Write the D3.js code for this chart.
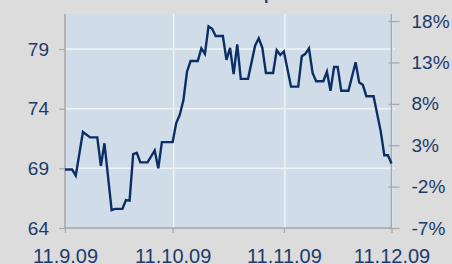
<!DOCTYPE html>
<html>
<head>
<meta charset="utf-8">
<script src="https://cdn.jsdelivr.net/npm/d3@7"></script>
<style>
  html, body { margin: 0; padding: 0; background: #dcdcdc; }
  svg { display: block; }
  text { font-family: "Liberation Sans", Arial, sans-serif; }
</style>
</head>
<body>
<svg id="chart" width="452" height="264"></svg>
<script>
// ---- data ----
const dates = [
  "2009-09-11","2009-09-13","2009-09-14","2009-09-16","2009-09-18","2009-09-20","2009-09-21","2009-09-22",
  "2009-09-24","2009-09-25","2009-09-27","2009-09-28","2009-09-29","2009-09-30","2009-10-01","2009-10-02",
  "2009-10-04","2009-10-06","2009-10-07","2009-10-08","2009-10-11","2009-10-12","2009-10-13","2009-10-14",
  "2009-10-15","2009-10-16","2009-10-18","2009-10-19","2009-10-20","2009-10-21","2009-10-22","2009-10-23",
  "2009-10-25","2009-10-26","2009-10-27","2009-10-28","2009-10-29","2009-10-30","2009-11-01","2009-11-02",
  "2009-11-03","2009-11-04","2009-11-05","2009-11-06","2009-11-08","2009-11-09","2009-11-10","2009-11-11",
  "2009-11-13","2009-11-15","2009-11-16","2009-11-17","2009-11-18","2009-11-19","2009-11-20","2009-11-22",
  "2009-11-23","2009-11-24","2009-11-25","2009-11-26","2009-11-27","2009-11-29","2009-12-01","2009-12-02",
  "2009-12-03","2009-12-04","2009-12-06","2009-12-08","2009-12-09","2009-12-10","2009-12-11"
];
const prices = [
  68.9, 68.9, 68.4, 72.05, 71.6, 71.6, 69.2, 71.1,
  65.5, 65.6, 65.6, 66.35, 66.3, 70.2, 70.3, 69.5,
  69.5, 70.5, 69.0, 71.2, 71.2, 72.8, 73.5, 74.7,
  77.1, 78.0, 78.0, 79.06, 78.6, 80.9, 80.7, 80.1,
  80.1, 78.1, 79.1, 76.9, 79.4, 76.5, 76.5, 77.9,
  79.3, 79.9, 79.1, 77.0, 77.0, 78.9, 78.5, 78.8,
  75.85, 75.85, 78.4, 78.6, 79.06, 77.0, 76.3, 76.3,
  77.1, 75.5, 77.5, 77.5, 75.5, 75.5, 77.9, 76.2,
  76.0, 75.05, 75.05, 72.1, 70.1, 70.1, 69.4
];
const xTickDates = ["2009-09-11","2009-10-11","2009-11-11","2009-12-11"];
const leftTicks = [64, 69, 74, 79];
const rightTicks = [-7, -2, 3, 8, 13, 18];
const titleText = "Share price";

// ---- layout ----
const parse = d3.timeParse("%Y-%m-%d");
const svg = d3.select("#chart");
const L = 65, R = 391.5, T = 14, B = 228, bgRight = 395;
const textColor = "#1b3a6c";
const axisGray = "#a6a6a6";

const x = d3.scaleTime()
  .domain([parse(xTickDates[0]), parse(xTickDates[3])])
  .range([L, R]);
const y = d3.scaleLinear().domain([64, 81.94]).range([B, T]);
const yR = d3.scaleLinear().domain([-7, 18.85]).range([B, T]);

// title (mostly cut off at top)
svg.append("text")
  .attr("x", 215).attr("y", -0.5)
  .attr("font-family", "'Liberation Serif', 'Times New Roman', serif")
  .attr("font-weight", "bold").attr("font-size", 16)
  .attr("fill", textColor)
  .text(titleText);

// plot background
svg.append("rect")
  .attr("x", L).attr("y", T)
  .attr("width", bgRight - L).attr("height", B - T)
  .attr("fill", "#d0dde8");

// gridlines
svg.append("g").selectAll("line")
  .data(leftTicks.slice(1))
  .join("line")
  .attr("x1", L).attr("x2", bgRight)
  .attr("y1", d => y(d)).attr("y2", d => y(d))
  .attr("stroke", "#eef3f7").attr("stroke-width", 1.5);

svg.append("g").selectAll("line")
  .data(xTickDates.slice(1))
  .join("line")
  .attr("x1", d => x(parse(d)) + 1).attr("x2", d => x(parse(d)) + 1)
  .attr("y1", T).attr("y2", B)
  .attr("stroke", "#eef3f7").attr("stroke-width", 1.5);

// left axis
const gL = svg.append("g").attr("transform", `translate(${L},0)`)
  .call(d3.axisLeft(y).tickValues(leftTicks).tickSize(6).tickPadding(10));
gL.select(".domain").attr("d", `M0,${T}V${B}`).attr("stroke", axisGray).attr("stroke-width", 1.5);
gL.selectAll(".tick line").attr("stroke", axisGray).attr("stroke-width", 1.2);
gL.selectAll("text").attr("font-size", 19).attr("fill", textColor)
  .attr("font-family", "'Liberation Sans', Arial, sans-serif");

// right axis
const gR = svg.append("g").attr("transform", `translate(${R},0)`)
  .call(d3.axisRight(yR).tickValues(rightTicks).tickSize(8).tickPadding(12).tickFormat(d => d + "%"));
gR.select(".domain").attr("d", `M0,${T}V${B}`).attr("stroke", axisGray).attr("stroke-width", 1.5);
gR.selectAll(".tick line").attr("x1", -3).attr("stroke", axisGray).attr("stroke-width", 1.2);
gR.selectAll("text").attr("font-size", 19).attr("fill", textColor)
  .attr("font-family", "'Liberation Sans', Arial, sans-serif");

// bottom axis
const gB = svg.append("g").attr("transform", `translate(0,${B})`)
  .call(d3.axisBottom(x).tickValues(xTickDates.map(parse)).tickSize(5).tickPadding(16)
    .tickFormat(d3.timeFormat("%-d.%-m.%y")));
gB.select(".domain").attr("d", `M${L},0H${R}`).attr("stroke", axisGray).attr("stroke-width", 1.5);
gB.selectAll(".tick line").attr("stroke", axisGray).attr("stroke-width", 1.2);
gB.selectAll("text").attr("font-size", 20).attr("fill", textColor)
  .attr("font-family", "'Liberation Sans', Arial, sans-serif");

// price line
const data = dates.map((d, i) => ({ date: parse(d), value: prices[i] }));
svg.append("path")
  .datum(data)
  .attr("fill", "none")
  .attr("stroke", "#0c2e66")
  .attr("stroke-width", 2.4)
  .attr("stroke-linejoin", "miter")
  .attr("d", d3.line().x(d => x(d.date)).y(d => y(d.value)));
</script>
</body>
</html>
